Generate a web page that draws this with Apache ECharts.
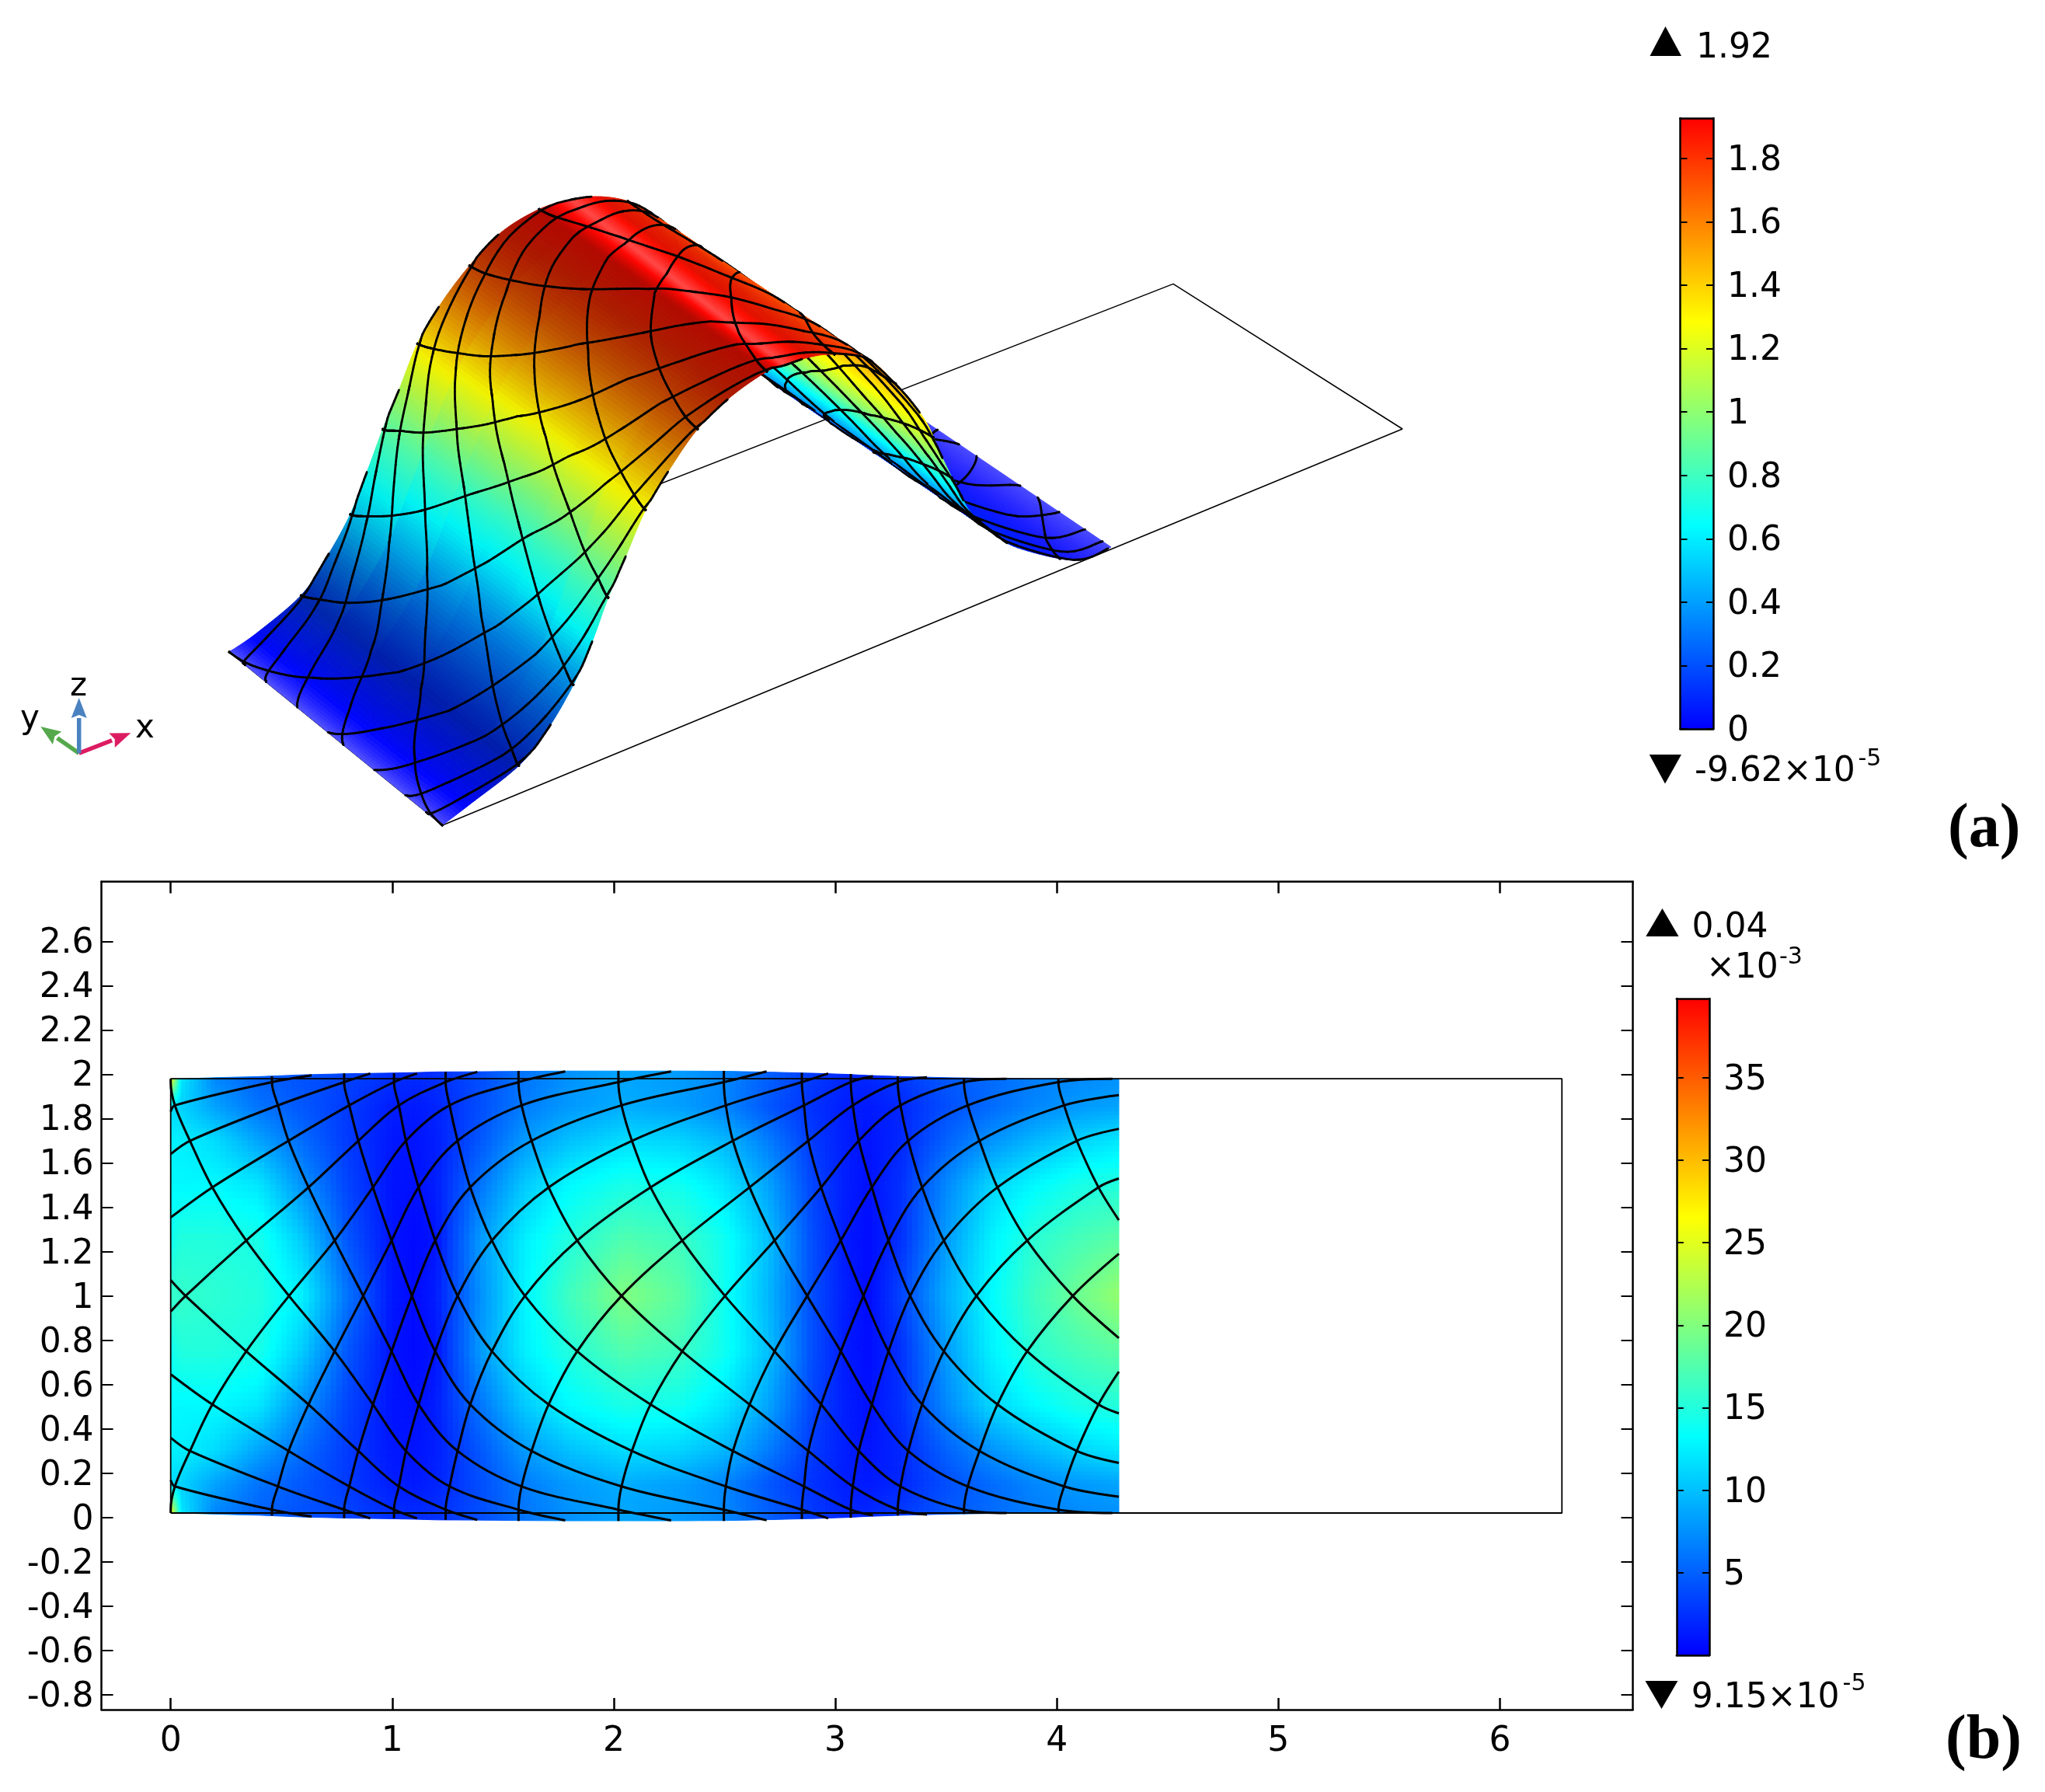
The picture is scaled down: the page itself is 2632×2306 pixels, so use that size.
<!DOCTYPE html>
<html>
<head>
<meta charset="utf-8">
<style>html,body{margin:0;padding:0;background:#fff}#c{width:2632px;height:2306px}</style>
<script src="https://cdn.jsdelivr.net/npm/echarts@6/dist/echarts.min.js"></script>
</head>
<body>
<div id="c"></div>
<script>
// ---------- tick labels ----------
const planXTicks = [0,1,2,3,4,5,6];
const planYTicks = [-0.8,-0.6,-0.4,-0.2,0,0.2,0.4,0.6,0.8,1,1.2,1.4,1.6,1.8,2,2.2,2.4,2.6];
const barATicks = [0,0.2,0.4,0.6,0.8,1,1.2,1.4,1.6,1.8];
const barBTicks = [5,10,15,20,25,30,35];
// colour scale (position, rgb)
const rainbowPos = [0,1/3,2/3,1];
const rainbowRgb = [[0,0,255],[0,255,255],[255,255,0],[255,0,0]];

// ---------- panel (b): reference rectangle ----------
const rectB = [[0,0.02],[6.28,0.02],[6.28,1.98],[0,1.98],[0,0.02]];

// ---------- panel (b): field, x1e-3, upper half (lower half is its mirror about y=1) ----------
const fieldX = [0,.05,.2,.4,.6,.8,1,1.1,1.2,1.4,1.6,1.8,2.05,2.3,2.5,2.7,2.9,3.05,3.15,3.3,3.5,3.7,3.9,4.1,4.28];
const fieldEdgeY = [1.98,1.98,1.985,1.99,1.998,2.003,2.006,2.008,2.011,2.012,2.014,2.015,2.015,2.015,2.014,2.01,2.005,2,1.995,1.99,1.985,1.982,1.98,1.98,1.98];
const fieldTop = [27,12,7,5,4.2,3.5,2.5,2.3,2.5,4,6,7.5,8.5,8,7,5,3,2,2,3,4.5,5.5,6.5,7.2,7.5];
const field185 = [11.5,11,8.5,6,4.5,3,1.5,1.3,1.8,4,6.5,8,9,8.3,7,4.5,2.5,1.5,1.3,2,4,5.5,7,8,8.5];
const field170 = [12.5,12.5,11.5,8.5,5.5,3,1.2,1,1.5,4.5,8,10,11.5,11,9.5,6.5,3,1.5,1,2,5,7.5,9.5,11,12];
const field150 = [13,13,13,12,7.5,3.5,1,.8,1.5,6,10.5,13,14.5,14,12,8.5,3.5,1.5,.8,2.5,7,11,13,14.5,15];
const field125 = [14,15,15,14.5,10.5,4.5,1,.5,1,8,12.5,15,17.5,16.5,14,10,4,1.3,.6,2.5,8,12.5,15.5,17,18];
const field100 = [16,16,15.5,15,12.5,6,1.2,.5,1.5,7.5,12.8,16.5,20,18,14,9.5,4,1.5,.5,3.5,9,13,16.5,19,21];
const fieldRowY = [1.85,1.7,1.5,1.25,1];

// ---------- deformed mesh nodes ----------
const meshRowY = [1.965,1.86,1.70,1.49,1.25,1.0];
const meshRow0 = [0,.457,.783,1.008,1.241,1.57,2.021,2.497,2.849,3.07,3.282,3.581,4.007];
const meshRow1 = [.019,.484,.806,1.03,1.259,1.584,2.035,2.506,2.859,3.079,3.294,3.598,4.033];
const meshRow2 = [.087,.532,.847,1.062,1.295,1.629,2.082,2.538,2.878,3.106,3.329,3.651,4.09];
const meshRow3 = [.188,.622,.913,1.119,1.352,1.706,2.166,2.613,2.936,3.165,3.392,3.732,4.188];
const meshRow4 = [.341,.74,.997,1.194,1.45,1.835,2.309,2.726,3.025,3.24,3.49,3.866];
const meshRow5 = [.067,.534,.869,1.089,1.295,1.599,2.035,2.502,2.873,3.127,3.338,3.637,4.072];
const meshTailX = [.636,.901,1.112,1.384,1.781,2.259,2.69,2.968,3.17,3.414,3.773,4.251];
const meshTailY = [1.996,2.004,2.004,2.011,2.013,2.013,2.013,2.004,1.991,1.987,1.98,1.98];
const meshEndY = [1.98,1.991,2.004,2.004,2.011,2.016,2.016,2.016,2.007,2.002,1.991,1.984,1.98];
const meshLeftY = {'-3':1.832,'-2':1.64,'-1':1.354,'0':.929};
const meshRightY = {'9':1.906,'10':1.754,'11':1.53,'12':1.19,'13':.658};

// ---------- panel (a): measured outline of the surface, one station per ruling ----------
const surfX = [0,.2,.457,.62,.783,.9,1.008,1.12,1.241,1.4,1.57,1.8,2.02,2.14,2.3,2.48,2.65,2.85,3,3.1,3.21,3.38,3.497,3.68,3.823,4.08,4.28];
const surfZNear = [0,.02,.12,.26,.42,.66,.85,1.08,1.3,1.5,1.68,1.82,1.89,1.92,1.88,1.82,1.7,1.5,1.33,1.15,.96,.62,.4,.2,.1,.01,0];
const surfZFar = [0,.03,.16,.34,.56,.72,.9,1.12,1.35,1.55,1.72,1.84,1.9,1.92,1.88,1.82,1.7,1.5,1.33,1.15,.96,.62,.4,.2,.1,.01,0];
const surfZDip = [0,0,.03,.06,.09,.1,.1,.09,.07,.05,.04,.02,0,0,0,0,0,0,0,0,0,0,0,0,0,0,0];
const surfFarH = [295,330,387.6,420,451,472,492.8,515,537.4,568,604.4,645,693.7,735,770,805,835,862,880,900,917,937,952,985,1015,1090,1140];
const surfFarV = [839,815,766,718,661.6,608,552,498,442,390,341.8,299,269.4,257,253,258,272,296,335,368,398,436,460,485,505,520,508];
const surfNearH = [569.3,606,668,705,738,762,783,807,831,863,898,940,987,1010,1040,1070,1115,1153,1190,1205,1218,1236,1250,1280,1310,1385,1430];
const surfNearV = [1062,1034,985,938,881,826,768.5,712,656,602,552,511,478,470,460,456,461,494,540,572,600,636,660,686,705,721,704];
const surfLit = [.33,-.05,-.33,-.25,-.12,-.05,-.03,-.05,-.05,-.15,-.27,-.33,-.3,.28,-.12,-.1,0,0,0,0,0,0,0,-.05,-.05,.1,.3];
const rectA = [[569.3,1062],[1805,552],[1510,365.4],[295,838.8]];

// ---------- helpers ----------
function ramp(t){
  t=Math.max(0,Math.min(1,t));
  let k=0; while(k<rainbowPos.length-2 && t>rainbowPos[k+1]) k++;
  const f=(t-rainbowPos[k])/(rainbowPos[k+1]-rainbowPos[k]);
  return rainbowRgb[k].map((c,j)=>c+(rainbowRgb[k+1][j]-c)*f);
}
const css=c=>'rgb('+c.map(v=>Math.round(v)).join(',')+')';
function shade(c,l){return l>=0?c.map(v=>v+(255-v)*l):c.map(v=>v*(1+l));}
const cr=(a,b,c,d,t)=>0.5*(2*b+(c-a)*t+(2*a-5*b+4*c-d)*t*t+(3*b-a-3*c+d)*t*t*t);
function crArr(A,f){
  const n=A.length-1, i=Math.min(Math.floor(f),n-1), t=f-i;
  return cr(A[Math.max(i-1,0)],A[i],A[i+1],A[Math.min(i+2,n)],t);
}
function linArr(A,f){const n=A.length-1,i=Math.min(Math.floor(f),n-1),t=f-i;return A[i]+(A[i+1]-A[i])*t;}
function stationOf(x){
  x=Math.max(0,Math.min(surfX[surfX.length-1],x));
  let i=0; while(i<surfX.length-2 && x>surfX[i+1]) i++;
  return i+(x-surfX[i])/(surfX[i+1]-surfX[i]);
}
function screenOf(x,y){
  const f=stationOf(x), t=Math.max(0,Math.min(1,(y-0.02)/1.96));
  const nh=crArr(surfNearH,f),nv=crArr(surfNearV,f),fh=crArr(surfFarH,f),fv=crArr(surfFarV,f);
  return [nh+(fh-nh)*t,nv+(fv-nv)*t];
}

// ---------- mesh polylines ----------
function risingLine(i){
  const R=meshRowY, pts=[];
  if(i>=1){
    const j=i-1;
    pts.push([meshRow0[j],2-meshEndY[j]]);
    pts.push([meshRow0[j],2-R[0]]);
    pts.push([meshRow1[j],2-R[1]]);
    pts.push([meshRow2[j],2-R[2]]);
    pts.push([meshRow3[j],2-R[3]]);
    if(meshRow4[j]!==undefined) pts.push([meshRow4[j],2-R[4]]);
  }
  if(meshLeftY[i]!==undefined) pts.push([0,meshLeftY[i]]);
  if(meshRow5[i]!==undefined) pts.push([meshRow5[i],R[5]]);
  const upIdx=[i,i+1,i+2,i+3,i+4];
  const up=[meshRow4,meshRow3,meshRow2,meshRow1,meshRow0];
  let ended=false;
  for(let q=0;q<5;q++){
    if(upIdx[q]<0) continue;
    const xv=up[q][upIdx[q]];
    if(xv===undefined){ended=true;break;}
    pts.push([xv,R[4-q]]);
  }
  if(ended){ if(meshRightY[i]!==undefined) pts.push([4.28,meshRightY[i]]); }
  else pts.push([meshTailX[i+3],meshTailY[i+3]]);
  return pts;
}
const meshRising=[]; for(let i=-3;i<=13;i++) meshRising.push(risingLine(i));
const meshFalling=meshRising.map(l=>l.map(p=>[p[0],2-p[1]]));
const meshLines=meshRising.concat(meshFalling);

// ---------- group mesh segments by surface strip so that hidden parts get covered ----------
const stripCount=surfX.length-1;
const stripSegs=Array.from({length:stripCount},()=>[]);
meshLines.forEach(L=>{
  const n=L.length-1;
  for(let s=0;s<n;s++){
    const a=L[Math.max(s-1,0)],b=L[s],c=L[s+1],d=L[Math.min(s+2,n)];
    let prev=null;
    for(let k=0;k<=10;k++){
      const t=k/10, p=[cr(a[0],b[0],c[0],d[0],t),cr(a[1],b[1],c[1],d[1],t)];
      if(prev){
        const f=stationOf((prev[0]+p[0])/2);
        stripSegs[Math.min(Math.floor(f),stripCount-1)].push({a:screenOf(prev[0],prev[1]),b:screenOf(p[0],p[1]),f});
      }
      prev=p;
    }
  }
});

function renderStrip(params,api){
  const i=api.value(0), kids=[], subs=10, parts=6;
  for(let m=subs-1;m>=0;m--){
    const f0=i+m/subs,f1=i+(m+1)/subs,fm=(f0+f1)/2;
    const n0=[crArr(surfNearH,f0),crArr(surfNearV,f0)],n1=[crArr(surfNearH,f1),crArr(surfNearV,f1)];
    const r0=[crArr(surfFarH,f0),crArr(surfFarV,f0)],r1=[crArr(surfFarH,f1),crArr(surfFarV,f1)];
    const zn=Math.max(0,crArr(surfZNear,fm)),zf=Math.max(0,crArr(surfZFar,fm)),dip=linArr(surfZDip,fm),lit=linArr(surfLit,fm);
    const P=(a,b,t)=>api.coord([a[0]+(b[0]-a[0])*t,a[1]+(b[1]-a[1])*t]);
    for(let q=0;q<parts;q++){
      const t0=q/parts,t1=(q+1)/parts,tm=(t0+t1)/2;
      const col=css(shade(ramp(Math.max(0,zn+(zf-zn)*tm-dip*4*tm*(1-tm))/1.927),lit));
      kids.push({type:'polygon',shape:{points:[P(n0,r0,t0),P(n1,r1,t0),P(n1,r1,t1),P(n0,r0,t1)]},style:{fill:col,stroke:col,lineWidth:1},silent:true});
    }
  }
  // redraw the line ends of the strip painted just before, which this strip's seam would nick
  const own=stripSegs[i];
  const prevEnds=i+1<stripCount?stripSegs[i+1].filter(s=>s.f<i+1.12):[];
  own.concat(prevEnds).forEach(s=>{
    const a=api.coord(s.a),b=api.coord(s.b);
    kids.push({type:'line',shape:{x1:a[0],y1:a[1],x2:b[0],y2:b[1]},style:{stroke:'#000',lineWidth:2.8,lineCap:'round'},silent:true});
  });
  return {type:'group',children:kids};
}

// ---------- field cells for panel (b) ----------
const upperRows=[fieldTop,field185,field170,field150,field125,field100];
const allRows=upperRows.concat(upperRows.slice(0,5).reverse());
function rowYAt(r,c){
  if(r===0) return fieldEdgeY[c];
  if(r===10) return 2-fieldEdgeY[c];
  return r<=5?fieldRowY[r-1]:2-fieldRowY[10-r-1];
}
function renderCell(params,api){
  const c=api.value(0), r=api.value(1), kids=[], n=8;
  const x0=fieldX[c],x1=fieldX[c+1];
  const v00=allRows[r][c],v10=allRows[r][c+1],v01=allRows[r+1][c],v11=allRows[r+1][c+1];
  const y00=rowYAt(r,c),y10=rowYAt(r,c+1),y01=rowYAt(r+1,c),y11=rowYAt(r+1,c+1);
  const P=(u,v)=>api.coord([x0+(x1-x0)*u,(y00*(1-u)+y10*u)*(1-v)+(y01*(1-u)+y11*u)*v]);
  for(let a=0;a<n;a++)for(let b=0;b<n;b++){
    const u=(a+.5)/n,v=(b+.5)/n;
    const val=(v00*(1-u)+v10*u)*(1-v)+(v01*(1-u)+v11*u)*v;
    const col=css(ramp(val/39.8));
    kids.push({type:'polygon',shape:{points:[P(a/n,b/n),P((a+1)/n,b/n),P((a+1)/n,(b+1)/n),P(a/n,(b+1)/n)]},style:{fill:col,stroke:col,lineWidth:1},silent:true});
  }
  return {type:'group',children:kids};
}
const cellData=[]; for(let r=0;r<10;r++)for(let c=0;c<fieldX.length-1;c++)cellData.push([c,r]);

function renderBar(params,api){
  const a=api.coord([0,api.value(0)]),b=api.coord([1,api.value(1)]);
  return {type:'rect',shape:{x:a[0],y:b[1],width:b[0]-a[0],height:a[1]-b[1]},
    style:{fill:new echarts.graphic.LinearGradient(0,1,0,0,rainbowPos.map((p,k)=>({offset:p,color:css(rainbowRgb[k])})))},silent:true};
}

// ---------- axes ----------
const FONT='"DejaVu Sans"';
const black={color:'#000',width:2.5};
const hiddenX=(g,min,max,inv)=>({type:'value',gridIndex:g,min,max,show:false,inverse:!!inv});
const grids=[
 {left:0,top:0,width:2632,height:2306},
 {left:130.6,top:1134.5,width:1970.9,height:1065.5},
 {left:2162.5,top:152,width:42.5,height:786},
 {left:2157.8,top:1285,width:42.2,height:845}
];
function frameX(g,min,max,pos,ticks,labels){
  return {type:'value',gridIndex:g,min,max,position:pos,z:6,
    axisLine:{show:true,onZero:false,lineStyle:black},splitLine:{show:false},
    axisTick:{show:!!ticks,inside:true,length:15,lineStyle:black,customValues:ticks||[]},
    axisLabel:{show:!!labels,customValues:labels||[],color:'#000',fontFamily:FONT,fontSize:44,margin:20,hideOverlap:false,formatter:v=>String(v)}};
}
function frameY(g,min,max,pos,ticks,labels,len,margin){
  return {type:'value',gridIndex:g,min,max,position:pos,z:6,
    axisLine:{show:true,onZero:false,lineStyle:black},splitLine:{show:false},
    axisTick:{show:!!ticks,inside:true,length:len,lineStyle:{color:'#000',width:2},customValues:ticks||[]},
    axisLabel:{show:!!labels,customValues:labels||[],margin,hideOverlap:false,formatter:v=>'{v|'+v+'}',
      rich:{v:{color:'#000',fontFamily:FONT,fontSize:44,padding:[7,0,0,0]}}}};
}
const PXMIN=-0.3125,PXMAX=6.6,PYMIN=-0.8674,PYMAX=2.8699;
const xAxes=[
 hiddenX(0,0,2632),
 frameX(1,PXMIN,PXMAX,'bottom',planXTicks,planXTicks),
 frameX(1,PXMIN,PXMAX,'top',planXTicks,null),
 frameX(2,0,1,'bottom'),
 frameX(2,0,1,'top'),
 frameX(3,0,1,'bottom'),
 frameX(3,0,1,'top')
];
const yAxes=[
 hiddenX(0,0,2306,true),
 frameY(1,PYMIN,PYMAX,'left',planYTicks,planYTicks,15,10),
 frameY(1,PYMIN,PYMAX,'right',planYTicks,null,15,0),
 frameY(2,0,1.927,'right',barATicks,barATicks,9,18),
 frameY(2,0,1.927,'left',barATicks,null,9,0),
 frameY(3,0,39.8,'right',barBTicks,barBTicks,9,18),
 frameY(3,0,39.8,'left',barBTicks,null,9,0)
];

// ---------- series ----------
const series=[
 {type:'line',xAxisIndex:0,yAxisIndex:0,z:1,data:rectA.concat([rectA[0]]),symbol:'none',silent:true,animation:false,
  lineStyle:{color:'#000',width:1.5}},
 {type:'custom',xAxisIndex:0,yAxisIndex:0,z:2,renderItem:renderStrip,silent:true,animation:false,progressive:0,
  data:Array.from({length:stripCount},(_,k)=>[stripCount-1-k]),encode:{x:0,y:0}},
 {type:'custom',xAxisIndex:1,yAxisIndex:1,z:2,renderItem:renderCell,silent:true,animation:false,progressive:0,
  data:cellData,encode:{x:0,y:1},clip:false},
 {type:'line',xAxisIndex:1,yAxisIndex:1,z:3,data:rectB,symbol:'none',silent:true,animation:false,
  lineStyle:{color:'#000',width:1.8}},
 {type:'custom',xAxisIndex:3,yAxisIndex:3,z:2,renderItem:renderBar,silent:true,animation:false,data:[[0,1.927]],encode:{y:[0,1]}},
 {type:'custom',xAxisIndex:5,yAxisIndex:5,z:2,renderItem:renderBar,silent:true,animation:false,data:[[0,39.8]],encode:{y:[0,1]}}
];
meshLines.forEach(L=>series.push({type:'line',xAxisIndex:1,yAxisIndex:1,z:4,data:L,symbol:'none',smooth:0.35,silent:true,animation:false,
  lineStyle:{color:'#000',width:3}}));

// ---------- annotations ----------
const T=(text,x,base,size)=>({type:'text',x,y:base-0.745*size,silent:true,z:20,
  style:{text,fill:'#000',font:size+'px '+FONT,textAlign:'left'}});
const tri=(pts)=>({type:'polygon',silent:true,z:20,shape:{points:pts},style:{fill:'#000'}});
const arrow=(o,tip,col)=>{
  const dx=tip[0]-o[0],dy=tip[1]-o[1],L=Math.hypot(dx,dy),ux=dx/L,uy=dy/L,nx=-uy,ny=ux;
  const b=[tip[0]-ux*26,tip[1]-uy*26];
  return [{type:'line',silent:true,z:20,shape:{x1:o[0],y1:o[1],x2:b[0],y2:b[1]},style:{stroke:col,lineWidth:5.5}},
   {type:'polygon',silent:true,z:20,shape:{points:[tip,[b[0]+nx*10,b[1]+ny*10],[b[0]+ux*4,b[1]+uy*4],[b[0]-nx*10,b[1]-ny*10]]},style:{fill:col}}];
};
const O=[101.7,969.3];
const graphics=[
 tri([[2143.5,34],[2123.5,72],[2164,72]]), T('1.92',2183,73.6,44),
 tri([[2122.8,971],[2164,971],[2143,1008.6]]), T('-9.62×10',2181,1004.5,44), T('-5',2391.5,985,30),
 tri([[2139.5,1169],[2118.3,1205],[2160.5,1205]]), T('0.04',2177.5,1205.8,44),
 T('×10',2196,1257.5,44), T('-3',2290,1240,30),
 tri([[2117.5,2163],[2159.4,2163],[2138.5,2199]]), T('9.15×10',2176.7,2196.7,44), T('-5',2371.6,2175,30),
 {type:'text',x:2507,y:1028,silent:true,z:20,style:{text:'(a)',fill:'#000',font:'bold 80px "Liberation Serif"'}},
 {type:'text',x:2504,y:2201.5,silent:true,z:20,style:{text:'(b)',fill:'#000',font:'bold 80px "Liberation Serif"'}},
 T('z',90,894,42), T('y',26,936,42), T('x',174,948,42)
].concat(arrow(O,[52.3,935],'#55a84b'),arrow(O,[168.3,943.3],'#dc1c62'),arrow(O,[101.7,898],'#4a82bf'));

const chart=echarts.init(document.getElementById('c'),null,{renderer:'canvas'});
chart.setOption({backgroundColor:'#fff',animation:false,grid:grids,xAxis:xAxes,yAxis:yAxes,series,graphic:{elements:graphics}});
</script>
</body>
</html>
